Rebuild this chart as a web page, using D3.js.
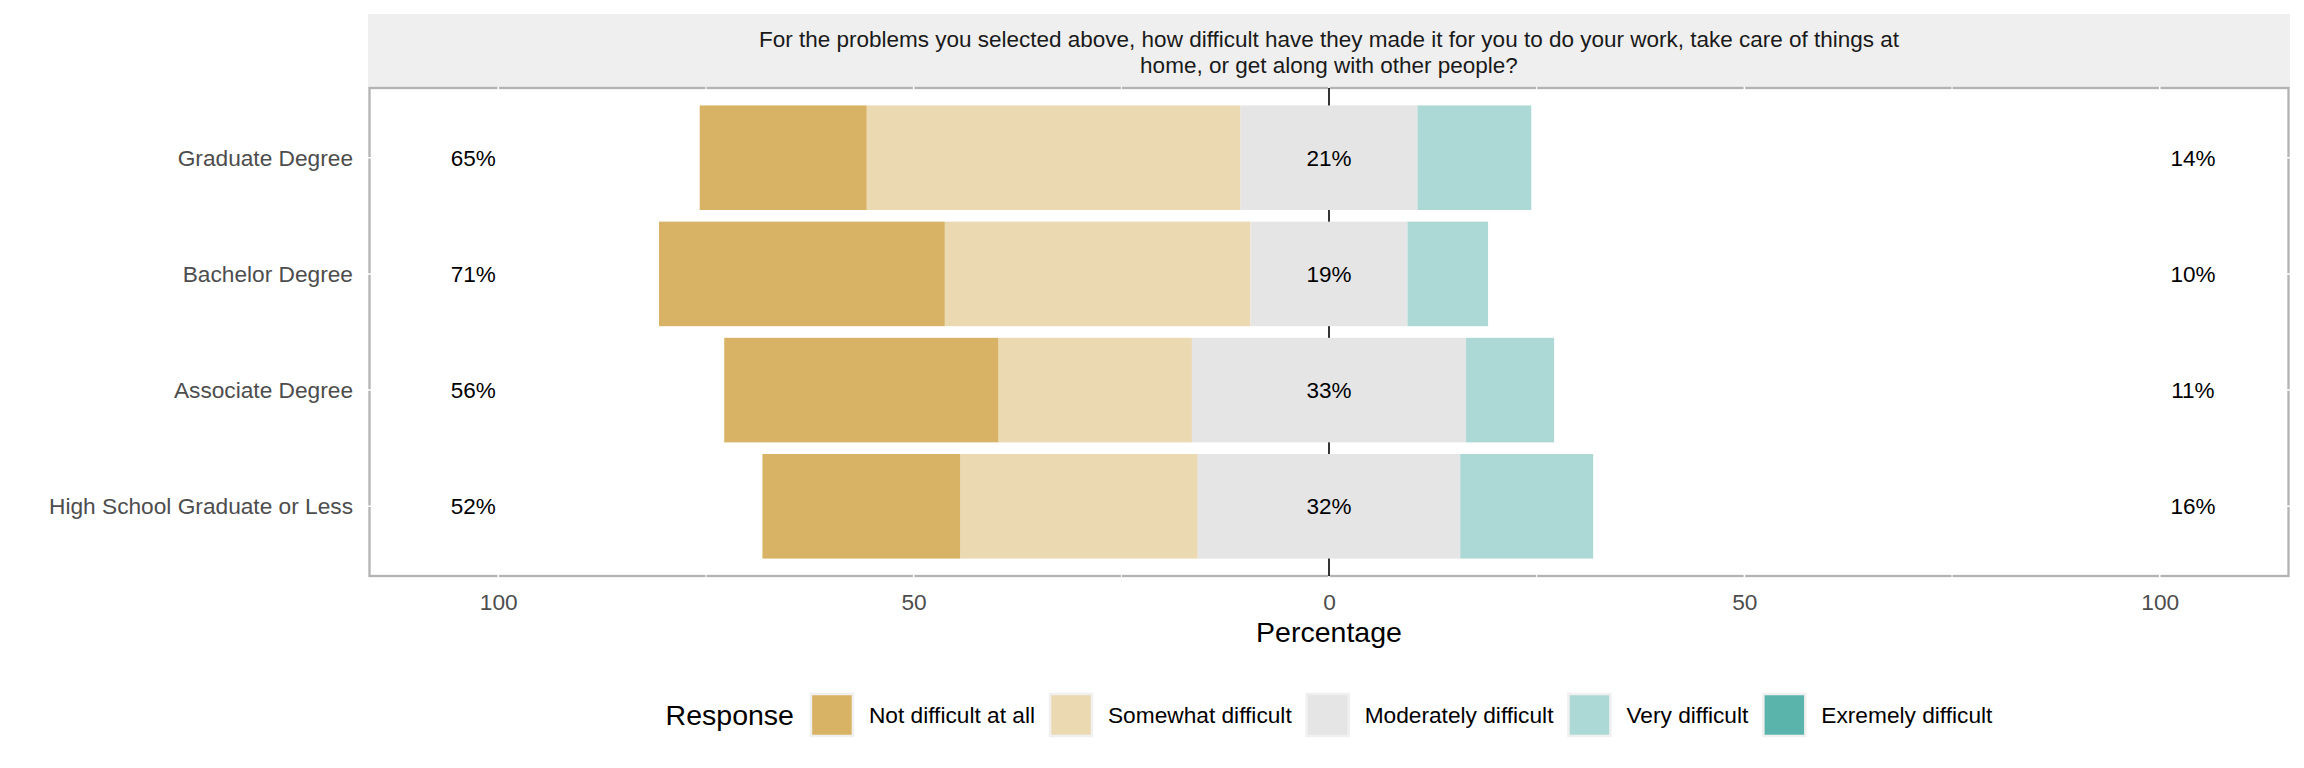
<!DOCTYPE html>
<html>
<head>
<meta charset="utf-8">
<script src="https://cdn.jsdelivr.net/npm/d3@7"></script>
<style>
  html, body { margin: 0; padding: 0; background: #fff; }
  svg { display: block; font-family: "Liberation Sans", Arial, sans-serif; }
</style>
</head>
<body>
<svg id="chart" width="2304" height="768"></svg>
<script>
// ---- data ----
const categories = ["Graduate Degree", "Bachelor Degree", "Associate Degree", "High School Graduate or Less"];
const responses = ["Not difficult at all", "Somewhat difficult", "Moderately difficult", "Very difficult", "Exremely difficult"];
const notDifficult = [20.1, 34.4, 33.0, 23.8];
const somewhatDifficult = [45.0, 36.8, 23.3, 28.6];
const moderatelyDifficult = [21.3, 18.9, 33.0, 31.6];
const veryDifficult = [13.7, 9.7, 10.6, 16.0];
const extremelyDifficult = [0, 0, 0, 0];
const colors = ["#D8B365", "#EBD9B2", "#E5E5E5", "#ACD9D5", "#5AB4AC"];
const xTicks = [-100, -50, 0, 50, 100];
const xMinorTicks = [-75, -25, 25, 75];
const xTickLabels = ["100", "50", "0", "50", "100"];
const stripTitle = ["For the problems you selected above, how difficult have they made it for you to do your work, take care of things at",
                    "home, or get along with other people?"];
const xTitle = "Percentage";
const legendTitle = "Response";
const leftLabelPos = -103;
const rightLabelPos = 104;

// ---- layout ----
const svg = d3.select("#chart");
const panel = { left: 369.5, right: 2288.5, top: 88, bottom: 576 };
const font = "\"Liberation Sans\", Arial, sans-serif";

const x = d3.scaleLinear().domain([-115.5, 115.5]).range([panel.left, panel.right]);
const y = d3.scaleBand().domain(categories).range([panel.top, panel.bottom])
  .paddingInner(0.1).paddingOuter(0.15);

// strip
svg.append("rect").attr("x", panel.left - 1.5).attr("y", 14)
  .attr("width", panel.right - panel.left + 3).attr("height", panel.top - 14)
  .attr("fill", "#EFEFEF");
const stripCx = (panel.left + panel.right) / 2;
svg.append("g").selectAll("text").data(stripTitle).join("text")
  .attr("x", stripCx).attr("y", (d, i) => 46.5 + i * 26)
  .attr("text-anchor", "middle").attr("font-size", 22.5).attr("fill", "#1A1A1A")
  .text(d => d);

// panel background with border
svg.append("rect").attr("x", panel.left).attr("y", panel.top)
  .attr("width", panel.right - panel.left).attr("height", panel.bottom - panel.top)
  .attr("fill", "#fff").attr("stroke", "#B3B3B3").attr("stroke-width", 2.3);

// white grid lines (over border, under data)
const grid = svg.append("g");
grid.selectAll("line.major").data(xTicks).join("line")
  .attr("x1", d => x(d)).attr("x2", d => x(d))
  .attr("y1", panel.top - 1.5).attr("y2", panel.bottom + 1.5)
  .attr("stroke", "#fff").attr("stroke-width", 1.5);
grid.selectAll("line.minor").data(xMinorTicks).join("line")
  .attr("x1", d => x(d)).attr("x2", d => x(d))
  .attr("y1", panel.top - 1.5).attr("y2", panel.bottom + 1.5)
  .attr("stroke", "#fff").attr("stroke-width", 1);
grid.selectAll("line.h").data(categories).join("line")
  .attr("x1", panel.left - 1.5).attr("x2", panel.right + 1.5)
  .attr("y1", d => y(d) + y.bandwidth() / 2).attr("y2", d => y(d) + y.bandwidth() / 2)
  .attr("stroke", "#fff").attr("stroke-width", 1.5);

// zero line
svg.append("line").attr("x1", x(0)).attr("x2", x(0))
  .attr("y1", panel.top).attr("y2", panel.bottom)
  .attr("stroke", "#000").attr("stroke-width", 1.6);

// bars
const segs = [];
categories.forEach((c, i) => {
  const m = moderatelyDifficult[i];
  let left = -m / 2;
  [[1, somewhatDifficult[i]], [0, notDifficult[i]]].forEach(([k, v]) => {
    segs.push({ cat: c, k, x0: left - v, x1: left });
    left -= v;
  });
  segs.push({ cat: c, k: 2, x0: -m / 2, x1: m / 2 });
  let right = m / 2;
  [[3, veryDifficult[i]], [4, extremelyDifficult[i]]].forEach(([k, v]) => {
    segs.push({ cat: c, k, x0: right, x1: right + v });
    right += v;
  });
});
svg.append("g").selectAll("rect").data(segs.filter(s => s.x1 - s.x0 > 0)).join("rect")
  .attr("x", d => x(d.x0)).attr("width", d => x(d.x1) - x(d.x0))
  .attr("y", d => y(d.cat)).attr("height", y.bandwidth())
  .attr("fill", d => colors[d.k]);

// percent labels
const labels = [];
categories.forEach((c, i) => {
  labels.push({ cat: c, pos: leftLabelPos, t: Math.round(notDifficult[i] + somewhatDifficult[i]) + "%" });
  labels.push({ cat: c, pos: 0, t: Math.round(moderatelyDifficult[i]) + "%" });
  labels.push({ cat: c, pos: rightLabelPos, t: Math.round(veryDifficult[i] + extremelyDifficult[i]) + "%" });
});
svg.append("g").selectAll("text").data(labels).join("text")
  .attr("x", d => x(d.pos)).attr("y", d => y(d.cat) + y.bandwidth() / 2)
  .attr("dy", "0.36em").attr("text-anchor", "middle")
  .attr("font-size", 22.5).attr("fill", "#000").text(d => d.t);

// y axis labels
svg.append("g").selectAll("text").data(categories).join("text")
  .attr("x", 353).attr("y", d => y(d) + y.bandwidth() / 2).attr("dy", "0.36em")
  .attr("text-anchor", "end").attr("font-size", 22.7).attr("fill", "#4D4D4D")
  .text(d => d);

// x axis
const xAxis = d3.axisBottom(x).tickValues(xTicks).tickFormat((d, i) => xTickLabels[i]).tickSize(0).tickPadding(0);
const gx = svg.append("g").attr("transform", `translate(0,${panel.bottom})`).call(xAxis);
gx.select(".domain").remove();
gx.selectAll("text").attr("font-size", 22.7).attr("fill", "#4D4D4D")
  .attr("font-family", font).attr("dy", null).attr("y", 33.5);

svg.append("text").attr("x", stripCx).attr("y", 642)
  .attr("text-anchor", "middle").attr("font-size", 28.5).attr("fill", "#000").text(xTitle);

// legend
const lg = svg.append("g");
const legY = 715;
const keySize = 42;
const titleEl = lg.append("text").attr("y", legY).attr("dy", "0.36em")
  .attr("font-size", 28.5).attr("fill", "#000").text(legendTitle);
const items = responses.map((r, i) => {
  const g = lg.append("g");
  g.append("rect").attr("width", keySize).attr("height", keySize)
    .attr("y", legY - keySize / 2).attr("fill", colors[i])
    .attr("stroke", "#F0F0F0").attr("stroke-width", 2.5);
  const t = g.append("text").attr("x", keySize + 16).attr("y", legY).attr("dy", "0.36em")
    .attr("font-size", 22.7).attr("fill", "#000").text(r);
  return { g, w: keySize + 16 + t.node().getComputedTextLength() };
});
const titleW = titleEl.node().getComputedTextLength();
const gapTitle = 17, gapItem = 15;
const total = titleW + gapTitle + d3.sum(items, d => d.w) + gapItem * (items.length - 1);
let cx = stripCx - total / 2;
titleEl.attr("x", cx);
cx += titleW + gapTitle;
items.forEach(it => {
  it.g.attr("transform", `translate(${cx},0)`);
  cx += it.w + gapItem;
});
</script>
</body>
</html>
